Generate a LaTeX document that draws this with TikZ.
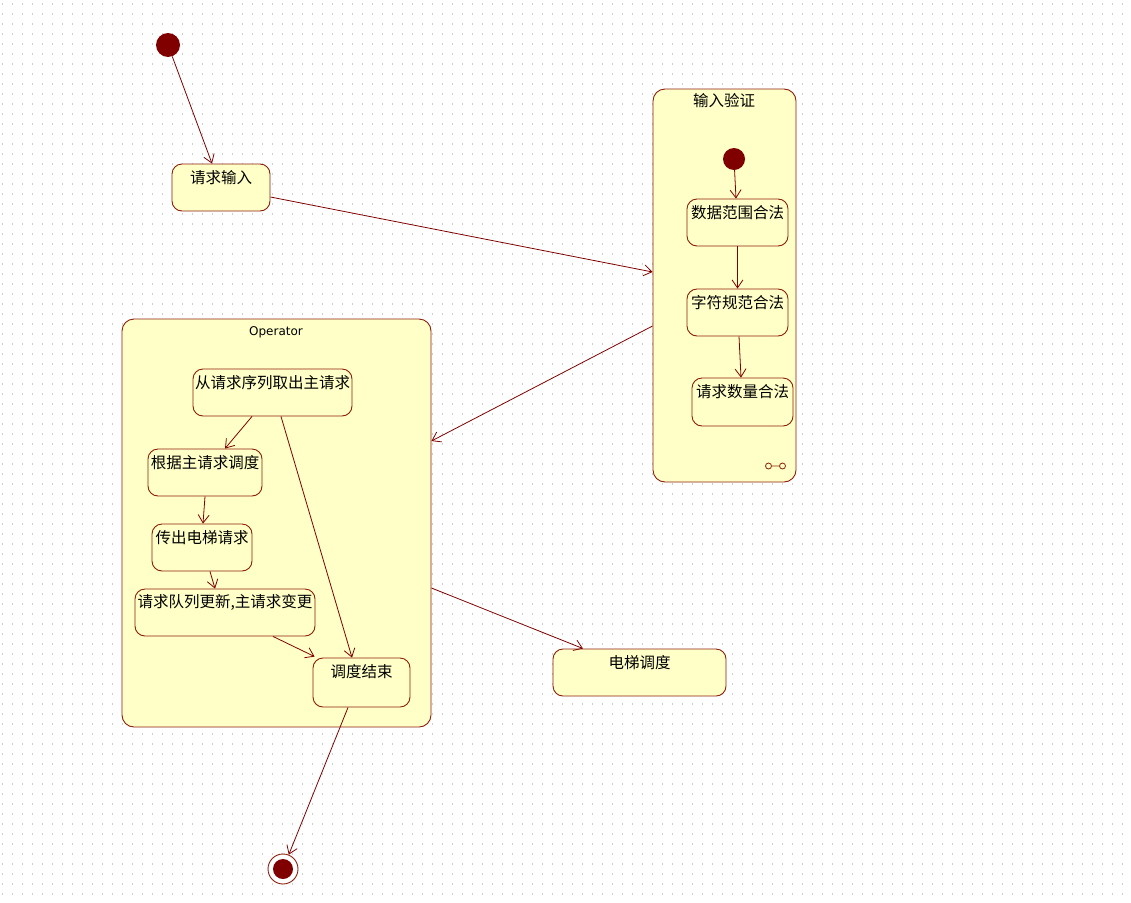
\documentclass[tikz,border=0pt]{standalone}
\usepackage{fontspec}
\setmainfont{DejaVu Sans}
\newfontfamily\cjk{Noto Sans CJK SC}
\usetikzlibrary{arrows.meta}
\definecolor{umlfill}{RGB}{255,255,200}
\definecolor{umlline}{RGB}{140,30,10}
\definecolor{umldot}{RGB}{128,0,0}
\definecolor{gridgray}{RGB}{205,205,205}
\begin{document}
\begin{tikzpicture}[x=1pt,y=-1pt,
  statebox/.style={draw=umlline, fill=umlfill, rounded corners=10pt, line width=0.9pt, inner sep=0pt},
  compbox/.style={draw=umlline, fill=umlfill, rounded corners=12pt, line width=0.9pt, inner sep=0pt},
  stext/.style={font=\cjk\fontsize{15.5}{18}\selectfont, inner sep=0pt, text=black},
  initdot/.style={circle, fill=umldot, inner sep=0pt},
  trans/.style={draw=umldot, line width=0.8pt, -{Straight Barb[length=8pt,width=11pt]}},
]
\useasboundingbox (0,0) rectangle (1131,902);
\fill[white] (0,0) rectangle (1131,902);
\foreach \yy in {4,14,...,894}
  \draw[gridgray, line width=1.3pt, dash pattern=on 1.3pt off 8.7pt] (2,\yy) -- (1131,\yy);

\newcommand\stbox[6]{%
  \node[statebox, minimum width={(#4-#2)*1pt}, minimum height={(#5-#3)*1pt},
        label={[stext, anchor=center, yshift=-14pt]north:#6}]
        (#1) at ({(#2+#4)/2},{(#3+#5)/2}) {};}

% top-level initial and first state
\node[initdot, minimum size=24pt] (init) at (168,45) {};
\stbox{inp}{172}{164}{270}{211}{请求输入}

% composite: input validation
\node[compbox, minimum width=143pt, minimum height=393pt] (val) at (724.5,285.5) {};
\node[stext] (valtitle) at (724,101) {输入验证};
\node[initdot, minimum size=22pt] (vinit) at (734,159) {};
\stbox{s1}{687}{199}{788}{246}{数据范围合法}
\stbox{s2}{687}{289}{788}{336}{字符规范合法}
\stbox{s3}{692}{378}{793}{426}{请求数量合法}
\draw[umlline, line width=0.8pt] (768.5,466) circle (3pt) (771.5,466) -- (779.5,466) (782.5,466) circle (3pt);

% composite: Operator
\node[compbox, minimum width=309pt, minimum height=408pt] (op) at (276.5,523) {};
\node[font=\fontsize{12}{14}\selectfont, inner sep=0pt] (optitle) at (276,332) {Operator};
\stbox{o1}{193}{369}{352}{416}{从请求序列取出主请求}
\stbox{o2}{148}{449}{262}{496}{根据主请求调度}
\stbox{o3}{152}{524}{252}{571}{传出电梯请求}
\stbox{o4}{135}{589}{315}{636}{请求队列更新,主请求变更}
\stbox{o5}{313}{658}{410}{707}{调度结束}

% elevator dispatch
\stbox{elev}{553}{649}{726}{696}{电梯调度}

% final state
\node[circle, draw=umlline, fill=white, line width=0.9pt, minimum size=30pt, inner sep=0pt,
      path picture={\fill[umldot] (path picture bounding box.center) circle (10pt);}] (final) at (283,869) {};

% transitions
\draw[trans] (init) -- ([xshift=-9pt]inp.north);
\draw[trans] ([yshift=-9.5pt]inp.east) -- ([yshift=13.5pt]val.west);
\draw[trans] ([yshift=-40.5pt]val.west) -- ([yshift=82pt]op.east);
\draw[trans] (vinit) -- ([xshift=-1.5pt]s1.north);
\draw[trans] (s1.south) -- (s2.north);
\draw[trans] ([xshift=1.5pt]s2.south) -- ([xshift=-1.5pt]s3.north);
\draw[trans] ([xshift=-20.5pt]o1.south) -- ([xshift=20pt]o2.north);
\draw[trans] ([xshift=8.5pt]o1.south) -- ([xshift=-9.5pt]o5.north);
\draw[trans] (o2.south) -- ([xshift=1pt]o3.north);
\draw[trans] ([xshift=8pt]o3.south) -- ([xshift=-10pt]o4.north);
\draw[trans] ([xshift=48pt]o4.south) -- ([xshift=2pt,yshift=1pt]o5.north west);
\draw[trans] ([yshift=-65pt]op.east) -- ([xshift=-56.5pt]elev.north);
\draw[trans] ([xshift=-13.5pt]o5.south) -- (final);
\end{tikzpicture}
\end{document}
